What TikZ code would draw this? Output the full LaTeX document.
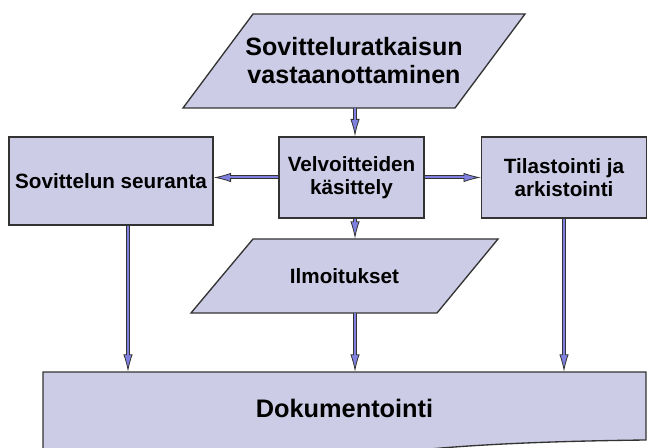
\documentclass[tikz,border=0pt]{standalone}
\usepackage{fontspec}
\setmainfont{Liberation Sans}
\usetikzlibrary{arrows.meta}
\definecolor{boxlilac}{RGB}{204,204,230}
\definecolor{arrowblue}{RGB}{128,128,224}
\definecolor{edgegray}{RGB}{51,51,51}

\begin{document}
\begin{tikzpicture}[x=0.75pt, y=-0.75pt,
  stagebox/.style={draw=edgegray, fill=boxlilac, line width=1pt, inner sep=0pt, align=center,
    font=\fontsize{15.5}{17.5}\selectfont\bfseries},
  shapefill/.style={draw=edgegray, fill=boxlilac, line width=1pt},
  textonly/.style={inner sep=0pt, align=center},
  flow/.style={draw=edgegray, line width=3pt,
    -{Latex[length=13pt, width=7pt, fill=arrowblue, line width=0.6pt]},
    postaction={draw=arrowblue, line width=1.5pt, -, shorten >=12pt}}]

  % frame
  \useasboundingbox (0,0) rectangle (648,448);
  \clip (0,0) rectangle (648,448);

  % incoming decision
  \draw[shapefill] (183,108) -- (455,108) -- (525,14) -- (253,14) -- cycle;
  \node[textonly, minimum width=204pt, minimum height=70.5pt,
    font=\fontsize{18.8}{21}\selectfont\bfseries] (result) at (354,61) {Sovitteluratkaisun\\vastaanottaminen};

  % middle row
  \node[stagebox, minimum width=108.75pt, minimum height=60.75pt] (velv) at (351.5,177.5) {Velvoitteiden\\käsittely};
  \node[stagebox, minimum width=153pt, minimum height=66pt] (seur) at (111,181) {Sovittelun seuranta};
  \node[stagebox, minimum width=123.75pt, minimum height=60.75pt] (tila) at (564,177.5) {Tilastointi ja\\arkistointi};

  % notices
  \draw[shapefill] (191,313) -- (437,313) -- (498,239) -- (253,239) -- cycle;
  \node[textonly, minimum width=184pt, minimum height=55.5pt,
    font=\fontsize{15.5}{17.5}\selectfont\bfseries] (ilmo) at (344.5,276) {Ilmoitukset};

  % document
  \draw[shapefill] (43,372) -- (646,372) -- (646,440)
    .. controls (560,441) and (470,444) .. (400,452)
    .. controls (300,468) and (150,478) .. (43,478) -- cycle;
  \node[textonly, minimum width=452.25pt, minimum height=54pt,
    font=\fontsize{19}{22}\selectfont\bfseries] (doc) at (344.5,408) {Dokumentointi};

  % connectors
  \coordinate (spine) at (355,0);
  \coordinate (seurdrop) at (128,0);
  \draw[flow] (result.south -| spine) -- (velv.north -| spine);
  \draw[flow] (velv.west) -- (velv.west -| seur.east);
  \draw[flow] (velv.east) -- (tila.west);
  \draw[flow] (velv.south -| spine) -- (ilmo.north -| spine);
  \draw[flow] (ilmo.south -| spine) -- (doc.north -| spine);
  \draw[flow] (seur.south -| seurdrop) -- (doc.north -| seurdrop);
  \draw[flow] (tila.south) -- (tila.south |- doc.north);
\end{tikzpicture}
\end{document}
